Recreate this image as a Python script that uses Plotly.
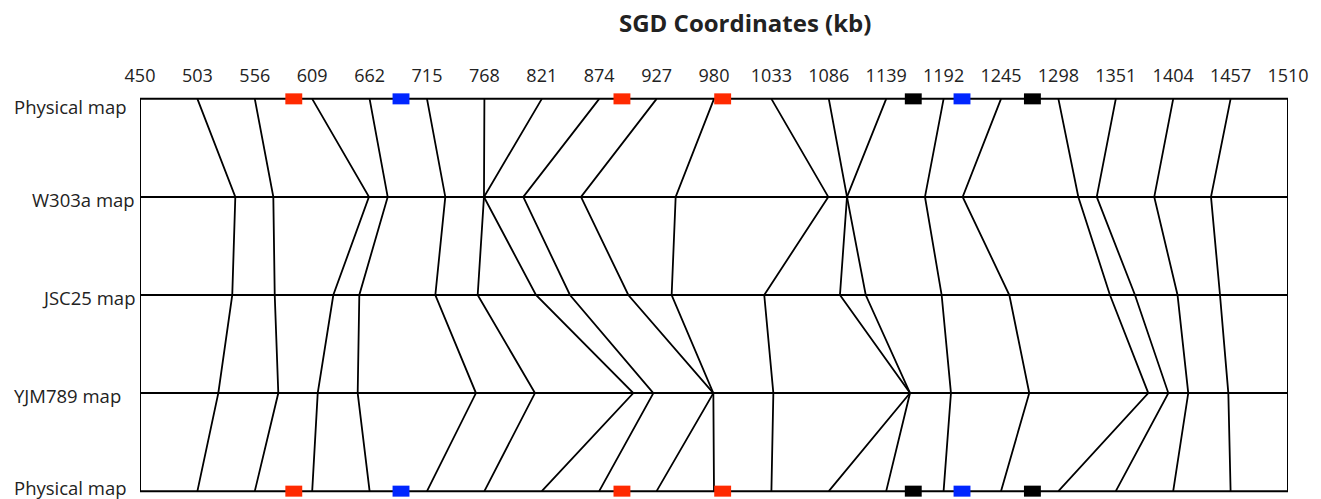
import plotly.graph_objects as go

# Map rows, top to bottom
maps = ["Physical map", "W303a map", "JSC25 map ", "YJM789 map", "Physical map"]

# SGD tick positions (kb)
ticks = [450, 503, 556, 609, 662, 715, 768, 821, 874, 927, 980, 1033, 1086,
         1139, 1192, 1245, 1298, 1351, 1404, 1457, 1510]

# Marker positions (kb) on each map, one entry per linked marker
physical = [503, 556, 609, 662, 715, 768, 821, 874, 927, 980, 1033, 1086,
            1139, 1192, 1245, 1298, 1351, 1404, 1457]
w303a = [538.0, 573.1, 661.4, 678.7, 731.9, 767.6, 767.6, 803.9, 857.2, 944.6,
         1085.5, 1102.8, 1102.8, 1174.8, 1209.6, 1316.4, 1333.4, 1386.5, 1438.9]
jsc25 = [535.2, 574.4, 628.5, 652.5, 722.7, 761.8, 815.6, 847.0, 900.9, 940.9,
         1026.4, 1096.3, 1120.1, 1190.2, 1252.7, 1345.6, 1368.7, 1408.0, 1447.2]
yjm789 = [522.3, 577.7, 614.1, 651.0, 760.2, 814.7, 905.5, 924.0, 979.4, 979.4,
          1034.8, 1161.0, 1161.0, 1198.8, 1271.1, 1381.0, 1399.5, 1417.9, 1454.9]

# Highlighted loci on the physical map
locus_pos = [592, 691, 895, 988, 1164, 1209, 1274]
locus_color = ["#ff2a00", "#0026ff", "#ff2a00", "#ff2a00", "#000000", "#0026ff", "#000000"]

rows = [physical, w303a, jsc25, yjm789, physical]
row_y = list(range(len(maps)))

# Row label placement (left edge in px from figure edge, vertical shift in px)
label_left = [12, 30, 40, 12, 12]
label_shift = [-8, -3, -2, -2, 4]

fig = go.Figure()

# Connecting lines between maps
lx, ly = [], []
for i in range(len(physical)):
    for r, vals in enumerate(rows):
        lx.append(vals[i])
        ly.append(row_y[r])
    lx.append(None)
    ly.append(None)
fig.add_trace(go.Scatter(x=lx, y=ly, mode="lines", line=dict(color="black", width=1.8),
                         hoverinfo="skip", showlegend=False, cliponaxis=False))

# Horizontal map lines and frame
fx, fy = [], []
for y in row_y:
    fx += [ticks[0], ticks[-1], None]
    fy += [y, y, None]
fx += [ticks[0], ticks[0], None, ticks[-1], ticks[-1]]
fy += [row_y[0], row_y[-1], None, row_y[0], row_y[-1]]
fig.add_trace(go.Scatter(x=fx, y=fy, mode="lines", line=dict(color="black", width=2),
                         hoverinfo="skip", showlegend=False, cliponaxis=False))

# Locus boxes on the top and bottom physical maps
shapes = []
for yv in (row_y[0], row_y[-1]):
    for p, c in zip(locus_pos, locus_color):
        shapes.append(dict(type="rect", xref="x", yref="y", ysizemode="pixel", yanchor=yv,
                           x0=p - 7.8, x1=p + 7.8, y0=-5.5, y1=5.5,
                           fillcolor=c, line=dict(width=0), layer="above"))

plot_left, plot_width = 140, 1148
annotations = [dict(text="<b>SGD Coordinates (kb)</b>", xref="paper", yref="paper",
                    x=0.527, y=1, yshift=69, yanchor="middle", showarrow=False,
                    font=dict(size=24, color="#222222"))]
for name, y, left, dy in zip(maps, row_y, label_left, label_shift):
    annotations.append(dict(text=name, xref="paper", yref="y",
                            x=(left - plot_left) / plot_width, y=y, xanchor="left",
                            yanchor="middle", yshift=dy, showarrow=False,
                            font=dict(size=18.5, color="#222222")))

fig.update_layout(
    width=1321, height=499,
    margin=dict(l=140, r=33, t=91, b=0),
    paper_bgcolor="white", plot_bgcolor="white",
    font=dict(family="Open Sans", size=18, color="#222222"),
    shapes=shapes,
    showlegend=False,
    xaxis=dict(range=[ticks[0], ticks[-1]], side="top", tickvals=ticks,
               ticktext=[str(t) for t in ticks], showgrid=False, zeroline=False,
               showline=False, ticks="", ticklabelstandoff=4),
    yaxis=dict(range=[4.08, -0.08], showticklabels=False, showgrid=False,
               zeroline=False, showline=False, ticks=""),
    annotations=annotations,
)

fig.write_html("out.html")
